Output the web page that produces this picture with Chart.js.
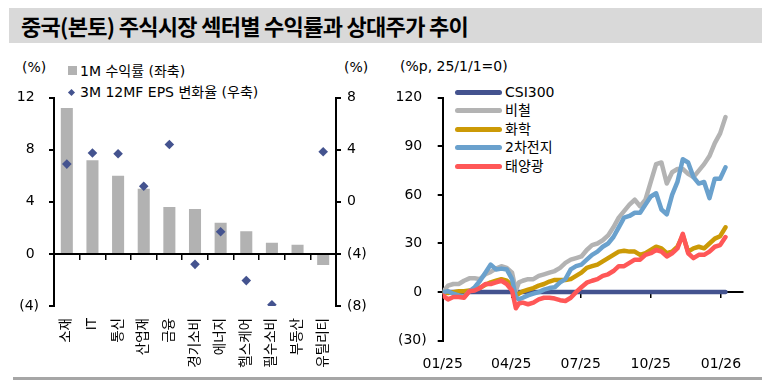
<!DOCTYPE html>
<html>
<head>
<meta charset="utf-8">
<script src="https://cdn.jsdelivr.net/npm/chart.js@4.4.1/dist/chart.umd.min.js"></script>
<style>
  html, body { margin: 0; padding: 0; background: #fff; width: 777px; height: 385px; overflow: hidden; }
  body { font-family: 'DejaVu Sans', 'Noto Sans CJK KR', sans-serif; color: #000; }
  #wrap { position: relative; width: 777px; height: 385px; }
  .band { position: absolute; left: 9px; top: 8px; width: 753px; height: 35px; background: #d9d9d9; }
  .title { position: absolute; left: 21px; top: 9px; font: bold 22px 'Noto Sans CJK KR', sans-serif; letter-spacing: -0.7px; white-space: nowrap; }
  .rule { position: absolute; left: 13px; top: 377px; width: 749px; height: 3px; background: #a6a6a6; }
  .txt { position: absolute; font-size: 14px; line-height: 16px; white-space: nowrap; }
  .sq { position: absolute; width: 9px; height: 9px; background: #b2b2b2; }
  .dia { position: absolute; width: 5px; height: 5px; background: #44538f; transform: rotate(45deg); }
  .ln { position: absolute; width: 47px; height: 5px; border-radius: 3px; }
  canvas { position: absolute; }
</style>
</head>
<body>
<div id="wrap">
  <div class="band"></div>
  <div class="title">중국(본토) 주식시장 섹터별 수익률과 상대주가 추이</div>

  <div class="txt" style="left:22px; top:59px;">(%)</div>
  <div class="txt" style="left:344px; top:59px;">(%)</div>
  <div class="sq" style="left:68px; top:66px;"></div>
  <div class="txt" style="left:80px; top:63px;">1M 수익률 (좌축)</div>
  <div class="dia" style="left:69px; top:90px;"></div>
  <div class="txt" style="left:80px; top:84px;">3M 12MF EPS 변화율 (우축)</div>

  <div class="txt" style="left:400px; top:58px;">(%p, 25/1/1=0)</div>
  <div class="ln" style="left:455px; top:90px; background:#44538f;"></div>
  <div class="txt" style="left:505px; top:84px;">CSI300</div>
  <div class="ln" style="left:455px; top:108px; background:#b3b3b3;"></div>
  <div class="txt" style="left:505px; top:102px;">비철</div>
  <div class="ln" style="left:455px; top:127px; background:#cc9a06;"></div>
  <div class="txt" style="left:505px; top:121px;">화학</div>
  <div class="ln" style="left:455px; top:145px; background:#6aa1cd;"></div>
  <div class="txt" style="left:505px; top:139px;">2차전지</div>
  <div class="ln" style="left:455px; top:164px; background:#ff5757;"></div>
  <div class="txt" style="left:505px; top:158px;">태양광</div>

  <canvas id="left" width="380" height="295" style="left:0; top:85px;"></canvas>
  <canvas id="right" width="397" height="295" style="left:380px; top:85px;"></canvas>
  <div class="rule"></div>
</div>

<script>
// 왼쪽: 섹터별 1M 수익률(막대)과 3M 12MF EPS 변화율(점)
const sectors = ["소재", "IT", "통신", "산업재", "금융", "경기소비", "에너지", "헬스케어", "필수소비", "부동산", "유틸리티"]
const ret1m = [11.2, 7.2, 6.0, 5.0, 3.6, 3.45, 2.4, 1.75, 0.85, 0.7, -0.85]
const eps3m = [2.9, 3.75, 3.7, 1.2, 4.4, -4.8, -2.3, -6.05, -7.9, null, 3.85]
const leftTicks = [-4, 0, 4, 8, 12]
const rightTicks = [-8, -4, 0, 4, 8]

// 오른쪽: 2025/1/1 이후 경과일 기준 CSI300 대비 상대주가 (%p)
const days = [0, 7, 14, 21, 28, 35, 42, 49, 56, 63, 70, 77, 84, 91, 96, 100, 105, 112, 119, 126, 133, 140, 147, 154, 161, 168, 175, 182, 189, 196, 203, 210, 217, 224, 231, 238, 245, 252, 259, 266, 273, 280, 287, 294, 301, 308, 315, 322, 329, 336, 343, 350, 357, 364, 371]
const csi300 = [0, 0, 0, 0, 0, 0, 0, 0, 0, 0, 0, 0, 0, 0, 0, 0, 0, 0, 0, 0, 0, 0, 0, 0, 0, 0, 0, 0, 0, 0, 0, 0, 0, 0, 0, 0, 0, 0, 0, 0, 0, 0, 0, 0, 0, 0, 0, 0, 0, 0, 0, 0, 0, 0, 0]
const metals = [0, 4, 5, 5, 7, 8.5, 8.5, 8, 11, 12.5, 14.5, 16, 15, 12, 1, 6, 7, 8, 8, 10, 11, 12, 13, 15, 18, 20, 21, 22, 26, 29, 30, 32, 35, 40, 46, 50, 54, 57, 53, 57, 68, 79, 80, 67, 74, 76, 76, 73, 71, 75, 79, 84, 92, 98, 108]
const chemicals = [0, -0.5, 0, 0.5, 0.5, 1, 1.5, 2.7, 4.5, 6, 7, 8, 7, 4, -2, -1, 0.5, 1.5, 2.5, 4, 5, 6.5, 7.5, 7.5, 7.5, 8, 10, 12, 15, 16, 17, 19, 21, 23, 25, 25.5, 25, 25, 23, 24, 26, 28, 27, 24, 25, 28, 35, 25, 27, 28, 27, 30, 33, 34.5, 40]
const battery = [0, 0.5, -1, -2, -3, 0.5, 3, 7, 12, 17, 14, 14.5, 14, 8, -3, -4.5, -3.5, -2, -1, 0, 1.5, 2.5, 3, 6, 8, 14, 16, 17, 20, 23, 25, 28, 30, 34, 40, 46, 47, 49, 49, 54, 59, 61, 51, 48, 60, 68, 82, 80, 71, 67, 68, 58, 70, 70, 77]
const solar = [-2, -4.5, -3, -3, -3.5, 0.5, 1, 2.5, 5, 5, 6, 7, 5, 1, -10, -7, -6.5, -7.5, -6.5, -4.5, -3.5, -3.5, -4, -5, -5.5, -3.5, 0, 3, 5.8, 7, 8, 10, 11, 13, 16, 16, 18, 20, 20, 23, 24, 26, 25, 22, 24, 27, 36, 24, 21, 23, 23, 25, 28, 29, 34]
const tickDays = [0, 90, 181, 273, 365]
const tickLabels = ["01/25", "04/25", "07/25", "10/25", "01/26"]
const valueTicks = [-30, 0, 30, 60, 90, 120]

const font = { family: "'DejaVu Sans', 'Noto Sans CJK KR', sans-serif", size: 14 }
const navy = "#44538f"
const fmt = (v) => (v < 0 ? `(${-v})` : `${v} `)
const setTicks = (list) => (scale) => { scale.ticks = list.map((v) => ({ value: v })) }
// 세로축 폭은 고정하고, 라벨 여백이 플롯 상단을 밀어내지 않게 한다
const fixWidth = (w) => (s) => { s.width = w; s.paddingTop = 0; s.paddingBottom = 0 }
const axisLine = { color: "#000", width: 2 }
const outTicks = { drawOnChartArea: false, tickLength: 5, color: "#000", lineWidth: 2 }

new Chart(document.getElementById("left"), {
  type: "bar",
  data: {
    labels: sectors,
    datasets: [
      {
        type: "line",
        label: "3M 12MF EPS 변화율 (우축)",
        data: eps3m,
        xAxisID: "x",
        yAxisID: "y1",
        showLine: false,
        pointStyle: "rectRot",
        pointRadius: 4.8,
        pointBorderWidth: 0,
        pointBackgroundColor: navy,
        order: 0
      },
      {
        type: "bar",
        label: "1M 수익률 (좌축)",
        data: ret1m,
        xAxisID: "x",
        yAxisID: "y",
        backgroundColor: "#b2b2b2",
        barPercentage: 0.47,
        categoryPercentage: 1,
        order: 1
      }
    ]
  },
  options: {
    responsive: false,
    animation: false,
    devicePixelRatio: 1,
    layout: { padding: { top: 12.7, right: 0, left: 0, bottom: 0 } },
    plugins: { legend: { display: false }, tooltip: { enabled: false } },
    scales: {
      x: {
        type: "category",
        position: "bottom",
        offset: true,
        grid: { display: false, drawTicks: false },
        border: { display: false },
        ticks: { autoSkip: false, minRotation: 90, maxRotation: 90, padding: 12, color: "#000", font: { ...font, size: 13.5 } },
        afterFit: (s) => { s.height = 74 }
      },
      x0: {
        type: "category",
        position: { y: 0 },
        offset: true,
        grid: { offset: true, drawOnChartArea: false, tickLength: 5, color: "#000", lineWidth: 1.5 },
        border: axisLine,
        ticks: { display: false }
      },
      y: {
        position: "left",
        min: -4,
        max: 12,
        afterBuildTicks: setTicks(leftTicks),
        grid: outTicks,
        border: axisLine,
        ticks: { padding: 10, color: "#000", font, callback: fmt },
        afterFit: fixWidth(54)
      },
      y1: {
        position: "right",
        min: -8,
        max: 8,
        afterBuildTicks: setTicks(rightTicks),
        grid: outTicks,
        border: axisLine,
        ticks: { padding: 6, color: "#000", font, callback: fmt },
        afterFit: fixWidth(44)
      }
    }
  }
})

const xy = (vals) => days.map((d, i) => ({ x: d, y: vals[i] }))
const lineStyle = { pointRadius: 0, borderWidth: 4.5, tension: 0, borderCapStyle: "round", borderJoinStyle: "round" }

new Chart(document.getElementById("right"), {
  type: "line",
  data: {
    datasets: [
      { label: "CSI300", data: xy(csi300), borderColor: navy, order: 5, ...lineStyle },
      { label: "비철", data: xy(metals), borderColor: "#b3b3b3", order: 4, ...lineStyle },
      { label: "화학", data: xy(chemicals), borderColor: "#cc9a06", order: 3, ...lineStyle },
      { label: "2차전지", data: xy(battery), borderColor: "#6aa1cd", order: 2, ...lineStyle },
      { label: "태양광", data: xy(solar), borderColor: "#ff5757", order: 1, ...lineStyle }
    ]
  },
  options: {
    responsive: false,
    animation: false,
    devicePixelRatio: 1,
    layout: { padding: { top: 12.7, right: 34, left: 0, bottom: 0 } },
    plugins: { legend: { display: false }, tooltip: { enabled: false } },
    scales: {
      x: {
        type: "linear",
        position: "bottom",
        min: 0,
        max: 394,
        afterBuildTicks: setTicks(tickDays),
        grid: { display: false, drawTicks: false },
        border: { display: false },
        ticks: { padding: 15, maxRotation: 0, autoSkip: false, color: "#000", font, callback: (v, i) => tickLabels[i] },
        afterFit: (s) => { s.height = 39.3 }
      },
      x0: {
        type: "linear",
        position: { y: 0 },
        min: 0,
        max: 394,
        afterBuildTicks: setTicks(tickDays),
        grid: { drawOnChartArea: false, tickLength: 5, color: "#000", lineWidth: 1.5 },
        border: axisLine,
        ticks: { display: false }
      },
      y: {
        position: "left",
        min: -30,
        max: 120,
        afterBuildTicks: setTicks(valueTicks),
        grid: outTicks,
        border: axisLine,
        ticks: { padding: 11, color: "#000", font, callback: fmt },
        afterFit: fixWidth(62.7)
      }
    }
  }
})
</script>
</body>
</html>
